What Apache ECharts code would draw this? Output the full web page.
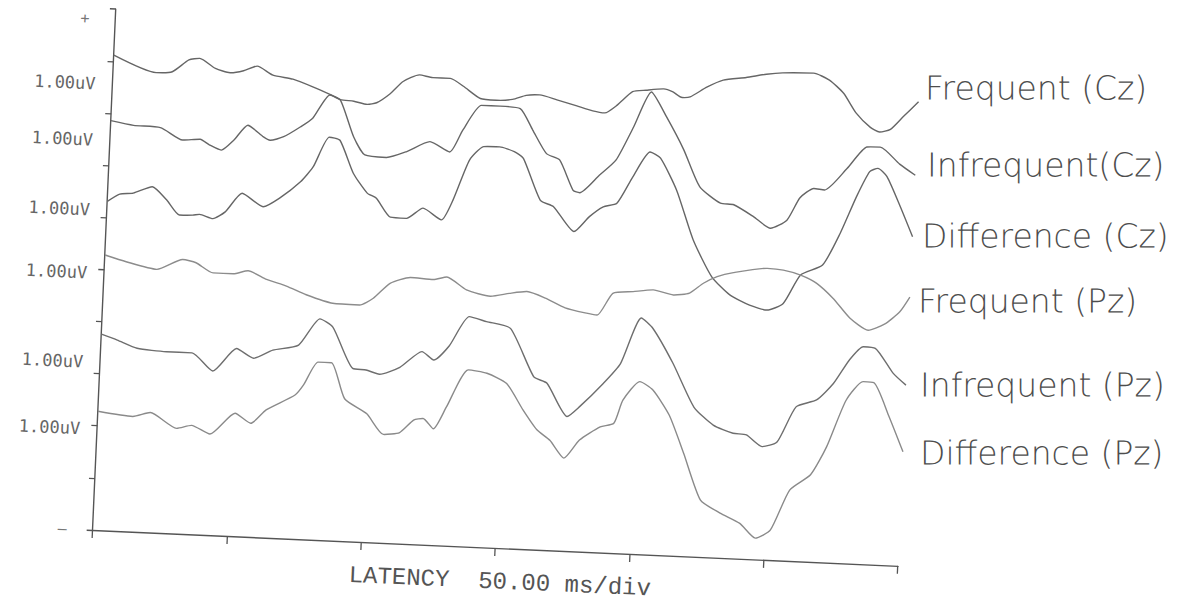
<!DOCTYPE html>
<html>
<head>
<meta charset="utf-8">
<script src="https://cdn.jsdelivr.net/npm/echarts@6/dist/echarts.min.js"></script>
<style>
html,body{margin:0;padding:0;background:#fff;overflow:hidden;}
#chart{position:absolute;left:0;top:0;width:1194px;height:602px;transform-origin:92.7px 530px;transform:rotate(2.55deg);}
</style>
</head>
<body>
<div id="chart"></div>
<script>
// ---- data: latency (ms) , position on the plot (divisions) ----
const seriesNames = ['Frequent (Cz)', 'Infrequent(Cz)', 'Difference (Cz)', 'Frequent (Pz)', 'Infrequent (Pz)', 'Difference (Pz)'];

const freqCz = [[0,9.12],[16,8.82],[22,8.85],[28,9.09],[32,9.13],[38,8.95],[43.5,8.88],[48.5,8.93],[53.5,9.03],[59.5,8.87],[67,8.81],[74.5,8.68],[81,8.55],[85,8.46],[90,8.44],[95,8.39],[98.5,8.43],[103.5,8.62],[108,8.86],[114,9.00],[119,8.96],[125.5,8.96],[130.5,8.82],[137,8.60],[143,8.58],[149,8.61],[154,8.70],[159,8.72],[165.5,8.64],[173,8.54],[179,8.46],[183.5,8.43],[188,8.59],[193.5,8.86],[198.5,8.90],[205,8.94],[208.5,8.89],[212,8.79],[215,8.81],[221,9.01],[227,9.16],[235.5,9.23],[243,9.31],[249,9.35],[260.5,9.37],[266.5,9.25],[272,9.01],[277,8.64],[282.5,8.38],[286,8.30],[290,8.36],[294.5,8.61],[300,8.91]];

const infreqCz = [[0,7.86],[8.5,7.79],[18.5,7.77],[27,7.55],[33.5,7.58],[37,7.48],[41.5,7.39],[46,7.59],[51,7.89],[57,7.68],[59.5,7.62],[64.5,7.70],[70.5,7.90],[75,8.08],[81,8.54],[85,8.45],[90.5,7.76],[95,7.42],[103,7.39],[110.5,7.52],[119,7.73],[126.5,7.55],[131,7.98],[137.5,8.47],[144.5,8.47],[152,8.44],[157,8.04],[162.5,7.60],[167.5,7.49],[173,6.92],[175.5,6.88],[182.5,7.23],[188.5,7.54],[194.5,8.19],[200.5,8.87],[206.5,8.41],[213.5,7.79],[220,7.10],[228,6.80],[233,6.78],[240.5,6.57],[247,6.36],[253,6.53],[257.5,6.97],[262.5,7.16],[266.5,7.14],[274.5,7.57],[281.5,8.00],[286.5,8.01],[294,7.70],[300,7.50]];

const diffCz = [[0,6.31],[4.5,6.46],[9.5,6.49],[16.5,6.63],[22,6.39],[27,6.11],[32,6.12],[34.5,6.14],[39.5,6.07],[44,6.21],[50,6.58],[58,6.34],[64,6.52],[71.5,6.85],[76,7.15],[81.5,7.73],[85.5,7.68],[91,7.06],[96.5,6.69],[100,6.60],[105.5,6.25],[111.5,6.24],[117.5,6.45],[124.5,6.24],[128.5,6.63],[134,7.41],[139,7.68],[145,7.69],[150.5,7.61],[154,7.49],[161,6.70],[166,6.59],[174,6.13],[179.5,6.43],[184.5,6.63],[189.5,6.71],[195,7.23],[201,7.72],[205,7.61],[211.5,7.01],[218.5,6.07],[226,5.38],[233,5.05],[240.5,4.87],[247,4.79],[253,4.93],[259,5.49],[267,5.70],[273,6.32],[278.5,7.04],[283,7.53],[286,7.60],[289.5,7.45],[295,6.88],[300,6.32]];

const freqPz = [[0,5.28],[8,5.17],[19.5,5.05],[29,5.26],[34,5.21],[40.5,5.03],[48,5.03],[53.5,5.10],[60.5,4.95],[68,4.84],[75.5,4.69],[85.5,4.55],[95.5,4.54],[100.5,4.68],[106.5,4.98],[114,5.11],[122.5,5.09],[127.5,5.15],[135,4.92],[144,4.82],[151,4.89],[157.5,4.94],[164.5,4.83],[172,4.66],[179.5,4.58],[184,4.55],[189.5,4.98],[197,5.03],[204.5,5.08],[212,5.00],[218,5.05],[223,5.25],[228,5.39],[234,5.48],[246.5,5.59],[252.5,5.57],[259,5.49],[265,5.35],[271.5,5.07],[278,4.71],[285,4.49],[291,4.62],[296.5,4.87],[300,5.16]];

const infreqPz = [[0,3.76],[6,3.66],[13.5,3.52],[24.5,3.48],[34,3.48],[42,3.15],[50.5,3.60],[57,3.43],[64,3.60],[73.5,3.72],[81,4.24],[86,4.09],[94,3.32],[99,3.30],[104,3.23],[111.5,3.38],[119.5,3.70],[124,3.55],[129.5,3.83],[136.5,4.41],[143,4.33],[152,4.22],[161.5,3.31],[166.5,3.20],[174.5,2.58],[179,2.78],[187.5,3.25],[193.5,3.64],[200.5,4.53],[205,4.34],[213,3.69],[221.5,2.87],[229,2.54],[236.5,2.40],[241.5,2.38],[247.5,2.17],[253,2.27],[259.5,2.96],[267,3.11],[273,3.44],[278.5,3.90],[283.5,4.17],[288,4.15],[295,3.69],[300,3.47]];

const diffPz = [[0,2.28],[13,2.21],[19.5,2.30],[29.5,2.02],[35,2.09],[42,1.94],[51,2.36],[57,2.18],[62.5,2.45],[73,2.76],[76,2.96],[81,3.41],[86,3.41],[91.5,2.73],[100,2.46],[106.5,2.08],[112.5,2.13],[117.5,2.38],[121,2.42],[125,2.23],[129.5,2.66],[137,3.39],[144,3.34],[151.5,3.16],[158,2.67],[163.5,2.30],[168.5,2.11],[174,1.78],[179.5,2.14],[187,2.41],[192,2.49],[195,2.94],[201,3.31],[206,3.16],[212.5,2.69],[218.5,1.97],[225.5,1.09],[233,0.86],[240.5,0.68],[246.5,0.41],[252,0.58],[258.5,1.36],[266,1.67],[271.5,2.22],[278,3.13],[284,3.50],[288,3.49],[294,2.88],[300,2.19]];

// axis ticks and the scale labels printed beside each trace
const xTicks = [0, 50, 100, 150, 200, 250, 300];
const yTicks = [0, 1, 2, 3, 4, 5, 6, 7, 8, 9, 10];
const yLabelValues = [0, 1.94, 3.22, 4.93, 6.14, 7.48, 8.56, 9.8];
const scaleLabel = '1.00uV';
const xAxisTitle = 'LATENCY  50.00 ms/div';

// ---- layout ----
const OX = 92.7, OY = 530, TH = 2.55 * Math.PI / 180;
const C = Math.cos(TH), S = Math.sin(TH);
function unrot(sx, sy) {
  const dx = sx - OX, dy = sy - OY;
  return [OX + C * dx + S * dy, OY - S * dx + C * dy];
}
// handwritten annotation places on the page (left x, middle y)
const notePlaces = [[925, 88], [927, 165], [922, 236], [918, 301], [920, 385], [920, 453]];

const traces = [freqCz, infreqCz, diffCz, freqPz, infreqPz, diffPz];
const colors = ['#666', '#666', '#666', '#8c8c8c', '#6e6e6e', '#8a8a8a'];

const chart = echarts.init(document.getElementById('chart'), null, {renderer: 'svg'});
chart.setOption({
  backgroundColor: '#fff',
  animation: false,
  grid: {left: OX, top: OY - 521.3, width: 806, height: 521.3, containLabel: false, outerBoundsMode: 'none'},
  xAxis: {
    type: 'value', min: 0, max: 300, interval: 50,
    name: xAxisTitle, nameLocation: 'middle', nameGap: 22,
    nameTextStyle: {fontFamily: 'Liberation Mono', fontSize: 24, color: '#555', padding: [0, 0, 0, 12]},
    axisLine: {show: true, lineStyle: {color: '#555', width: 1.4}},
    axisTick: {show: true, inside: false, length: 8, lineStyle: {color: '#555', width: 1.3}, customValues: xTicks},
    axisLabel: {show: false},
    splitLine: {show: false}
  },
  yAxis: {
    type: 'value', min: 0, max: 10, interval: 1,
    axisLine: {show: true, lineStyle: {color: '#555', width: 1.4}},
    axisTick: {show: true, inside: false, length: 6, lineStyle: {color: '#555', width: 1.3}, customValues: yTicks},
    axisLabel: {
      show: true, margin: 17, customValues: yLabelValues,
      fontFamily: 'DejaVu Sans Mono', fontSize: 17, color: '#666',
      formatter: function (v) {
        if (Math.abs(v) < 0.01) return '{pm|–}';
        if (v > 9.5) return '{pm|+}';
        return scaleLabel;
      },
      rich: {pm: {fontFamily: 'DejaVu Sans Mono', fontSize: 15, color: '#777', padding: [0, 9, 0, 0]}}
    },
    splitLine: {show: false}
  },
  graphic: seriesNames.map(function (n, i) {
    const p = unrot(notePlaces[i][0], notePlaces[i][1]);
    return {
      type: 'text', x: p[0], y: p[1], rotation: TH, silent: true,
      style: {text: n, fontFamily: 'DejaVu Sans', fontWeight: 200, fontSize: 33, fill: '#4d4d4d', textAlign: 'left', textVerticalAlign: 'middle', verticalAlign: 'middle'}
    };
  }),
  series: traces.map(function (d, i) {
    return {
      name: seriesNames[i], type: 'line', data: d, showSymbol: false, smooth: 0.2,
      silent: true, clip: false,
      lineStyle: {width: 1.4, color: colors[i]}
    };
  })
});
</script>
</body>
</html>
